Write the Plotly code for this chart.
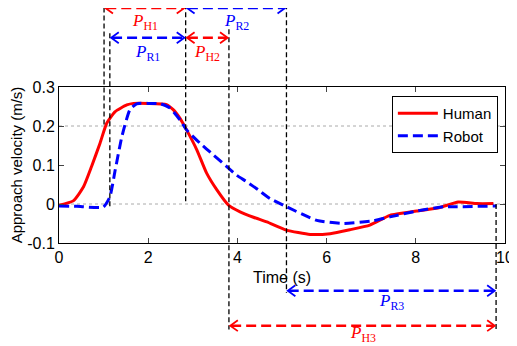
import plotly.graph_objects as go

# Human approach velocity
human_t = [0, 0.32, 0.55, 0.73, 0.92, 1.07, 1.26, 1.52, 1.67, 2.0, 2.41, 2.56, 2.71, 2.86, 3.09, 3.31, 3.54, 3.80, 4.06, 4.36,
           4.66, 5.10, 5.63, 6.08, 6.52, 6.97, 7.42, 8.02, 8.54, 8.95, 9.37, 9.74]
human_v = [-0.003, 0.008, 0.044, 0.096, 0.156, 0.207, 0.237, 0.254, 0.258, 0.258, 0.255, 0.242, 0.22, 0.19, 0.139, 0.079, 0.036, -0.003, -0.02, -0.034,
           -0.046, -0.067, -0.078, -0.076, -0.066, -0.054, -0.029, -0.018, -0.009, 0.005, 0.001, 0.001]
# Robot approach velocity
robot_t = [0, 0.40, 0.99, 1.14, 1.26, 1.41, 1.59, 1.74, 2.0, 2.27, 2.49, 2.71, 2.86, 3.16, 3.46, 3.80, 3.98, 4.21, 4.47,
           4.73, 5.10, 5.78, 6.37, 7.05, 7.42, 8.02, 8.62, 8.92, 9.81]
robot_v = [-0.005, -0.006, -0.008, 0.018, 0.087, 0.173, 0.242, 0.257, 0.258, 0.257, 0.246, 0.216, 0.19, 0.156, 0.126, 0.092, 0.074, 0.057, 0.036,
           0.014, -0.007, -0.042, -0.05, -0.043, -0.033, -0.018, -0.007, -0.007, -0.005]

# Phase boundaries (s)
t_h1, t_r1, t_mid, t_h2, t_r2, t_end = 1.01, 1.14, 2.84, 3.81, 5.10, 9.80

Y0, Y1 = -0.1, 0.3
def dp(v):
    return (v - Y0) / (Y1 - Y0)

RED = "#ff0000"
BLUE = "#0000ff"

fig = go.Figure()
fig.add_trace(go.Scatter(x=human_t, y=human_v, mode="lines", name="Human",
                         line=dict(color=RED, width=3, shape="spline", smoothing=0.5)))
fig.add_trace(go.Scatter(x=robot_t, y=robot_v, mode="lines", name="Robot",
                         line=dict(color=BLUE, width=3, dash="10px,5px", shape="spline", smoothing=0.5)))

shapes = []
# dotted reference lines
for yv in [0.2, 0.0]:
    shapes.append(dict(type="line", xref="x", yref="y", x0=0, x1=10, y0=yv, y1=yv,
                       line=dict(color="#aaaaaa", width=1, dash="dot"), layer="below"))

# vertical dashed boundary lines (x, paper y0, paper y1)
vlines = [(t_h1, 1.51, dp(0.2)), (t_r1, 1.345, dp(-0.007)), (t_mid, 1.53, dp(0.0)),
          (t_h2, 1.37, -0.555), (t_r2, 1.53, -0.32), (t_end, dp(0.0), -0.555)]
for x, a, b in vlines:
    shapes.append(dict(type="line", xref="x", yref="paper", x0=x, x1=x, y0=a, y1=b,
                       line=dict(color="black", width=1.3, dash="5px,3px")))

def arrow(xa, xb, yp, color):
    shapes.append(dict(type="line", xref="x", yref="paper", x0=xa + 0.05, x1=xb - 0.05, y0=yp, y1=yp,
                       line=dict(color=color, width=2.5, dash="10px,5px")))
    dx, dy = 0.2, 0.035
    shapes.append(dict(type="path", xref="x", yref="paper",
                       path=f"M {xa+dx},{yp+dy} L {xa+0.03},{yp} L {xa+dx},{yp-dy}",
                       line=dict(color=color, width=1.8)))
    shapes.append(dict(type="path", xref="x", yref="paper",
                       path=f"M {xb-dx},{yp+dy} L {xb-0.03},{yp} L {xb-dx},{yp-dy}",
                       line=dict(color=color, width=1.8)))

arrow(t_h1, t_mid, 1.506, RED)
arrow(t_mid, t_r2, 1.506, BLUE)
arrow(t_r1, t_mid, 1.316, BLUE)
arrow(t_mid, t_h2, 1.316, RED)
arrow(t_r2, t_end, -0.306, BLUE)
arrow(t_h2, t_end, -0.53, RED)

labels = [((t_h1 + t_mid) / 2, 1.417, "H1", RED), ((t_mid + t_r2) / 2, 1.417, "R2", BLUE),
          ((t_r1 + t_mid) / 2, 1.218, "R1", BLUE), ((t_mid + t_h2) / 2, 1.218, "H2", RED),
          ((t_r2 + t_end) / 2, -0.376, "R3", BLUE), ((t_h2 + t_end) / 2, -0.585, "H3", RED)]
anns = []
for x, y, sub, c in labels:
    anns.append(dict(x=x, y=y, xref="x", yref="paper", showarrow=False,
                     xanchor="center", yanchor="middle",
                     text=f"<i>P</i><sub>{sub}</sub>",
                     font=dict(family="Liberation Serif", size=17, color=c)))

# page body has an 8px margin: size the figure to fit what remains of the window
fig.update_layout(
    width=509, height=338,
    margin=dict(l=51, r=12, t=79, b=103, autoexpand=False),
    paper_bgcolor="white", plot_bgcolor="white",
    font=dict(family="Liberation Sans", size=14, color="black"),
    shapes=shapes, annotations=anns,
    legend=dict(x=0.984, y=0.942, xanchor="right", yanchor="top",
                bordercolor="black", borderwidth=1, bgcolor="white",
                font=dict(size=15), tracegroupgap=0, itemwidth=40),
    showlegend=True,
)
fig.update_xaxes(range=[0, 10], tickvals=[0, 2, 4, 6, 8, 10], ticks="inside", ticklen=5,
                 showline=True, linecolor="black", linewidth=1, mirror="ticks",
                 showgrid=False, zeroline=False, tickfont=dict(size=16), automargin=False,
                 title=dict(text="Time (s)", standoff=6, font=dict(size=16)))
fig.update_yaxes(range=[Y0, Y1], tickvals=[-0.1, 0, 0.1, 0.2, 0.3], ticktext=["-0.1", "0", "0.1", "0.2", "0.3"],
                 ticks="inside", ticklen=5, automargin=False,
                 showline=True, linecolor="black", linewidth=1, mirror="ticks",
                 showgrid=False, zeroline=False, tickfont=dict(size=16),
                 title=dict(text="Approach velocity (m/s)", standoff=4, font=dict(size=15)))

fig.write_html("out.html")
